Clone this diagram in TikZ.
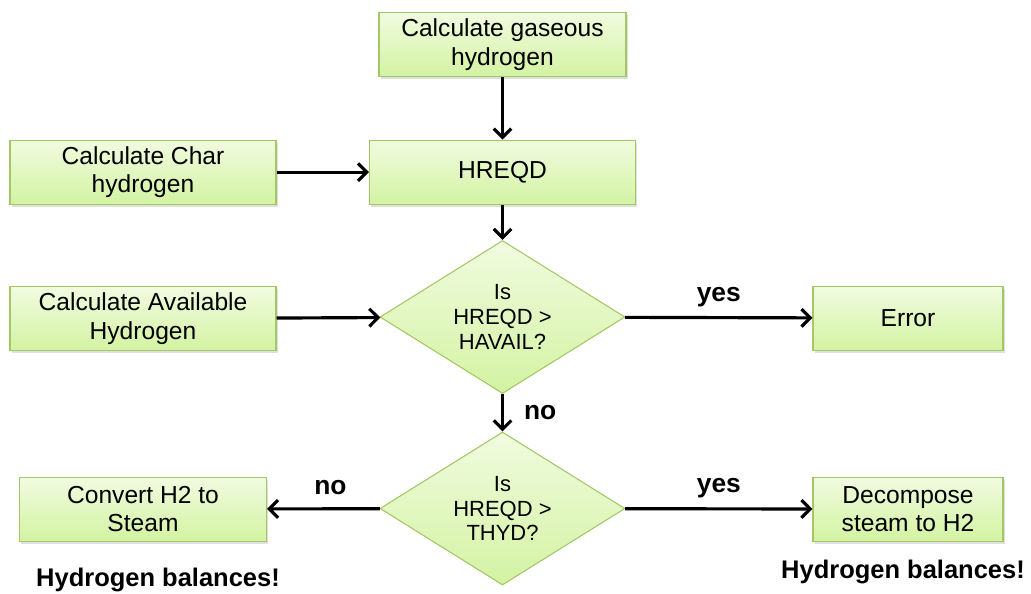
\documentclass[tikz,border=0pt]{standalone}
\usepackage{fontspec}
\setmainfont{Liberation Sans}
\usetikzlibrary{shapes.geometric, arrows.meta, shadows}

\definecolor{boxtop}{HTML}{F1FBE0}
\definecolor{boxbottom}{HTML}{D3F3A2}
\definecolor{boxline}{HTML}{A3C765}

\tikzset{
  procbox/.style = {rectangle, draw=boxline, line width=0.6pt, top color=boxtop, bottom color=boxbottom,
    minimum height=1.28cm, align=center, inner sep=2pt, yshift=-1.5pt,
    drop shadow={shadow xshift=1pt, shadow yshift=-1.5pt, opacity=0.25},
    font=\fontsize{14}{16}\selectfont},
  decision/.style = {diamond, draw=boxline, line width=0.6pt, top color=boxtop, bottom color=boxbottom,
    aspect=1.6, minimum width=4.9cm, minimum height=3.06cm, inner sep=0pt, align=center,
    font=\fontsize{12.5}{14}\selectfont},
  answer/.style = {font=\bfseries\fontsize{15}{17}\selectfont},
  balance/.style = {font=\bfseries\fontsize{14.5}{17}\selectfont}
}

\begin{document}
\begin{tikzpicture}[->, >={Straight Barb[length=5pt, width=10pt]}, line width=1.8pt]
  \newcommand{\xmid}{10.05}
  \newcommand{\xleft}{2.86}
  \newcommand{\xright}{18.16}
  \useasboundingbox (0, 0) rectangle (20.62, -11.86);

  \node[procbox, minimum width=4.94cm] at (\xmid, -0.84) (gaseous) {Calculate gaseous\\hydrogen};

  \node[procbox, minimum width=5.32cm] at (\xmid, -3.39) (hreqd) {HREQD};
  \node[procbox, minimum width=5.32cm] at (\xleft, -3.39) (char) {Calculate Char\\hydrogen};

  \node[procbox, minimum width=5.32cm] at (\xleft, -6.32) (avail) {Calculate Available\\Hydrogen};
  \node[decision] at (\xmid, -6.34) (havail) {Is\\HREQD >\\HAVAIL?};
  \node[procbox, minimum width=3.8cm] at (\xright, -6.31) (error) {Error};

  \node[decision] at (\xmid, -10.17) (thyd) {Is\\HREQD >\\THYD?};
  \node[procbox, minimum width=4.94cm] at (\xleft, -10.13) (steam) {Convert H2 to\\Steam};
  \node[procbox, minimum width=3.8cm] at (\xright, -10.13) (decomp) {Decompose\\steam to H2};

  \node[balance] at (3.16, -11.6) (balleft) {Hydrogen balances!};
  \node[balance] at (18.06, -11.44) (balright) {Hydrogen balances!};

  \draw (gaseous) -- (hreqd);
  \draw (char) -- (hreqd);
  \draw (hreqd) -- (havail);
  \draw (avail) -- (havail);
  \draw (havail) -- node[answer, above=2pt] {yes} (error);
  \draw (havail) -- node[answer, right=8pt] {no} (thyd);
  \draw (thyd) -- node[answer, above=4pt, xshift=4pt] {no} (steam);
  \draw (thyd) -- node[answer, above=2pt] {yes} (decomp);

\end{tikzpicture}
\end{document}
